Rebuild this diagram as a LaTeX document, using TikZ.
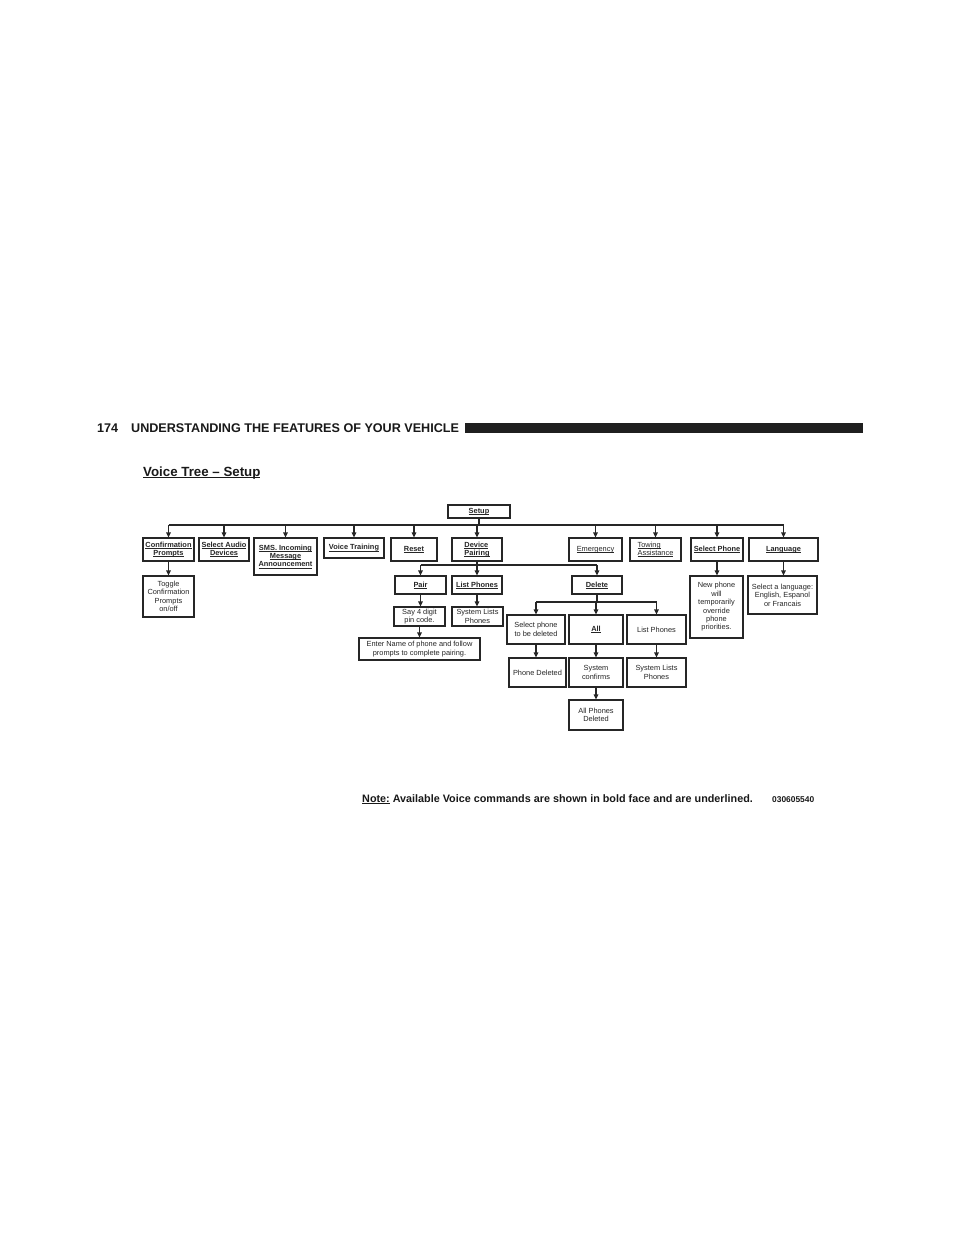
\documentclass[tikz,border=0pt]{standalone}
\usepackage{fontspec}
\setmainfont{Liberation Sans}
\usetikzlibrary{arrows.meta}
\newsavebox\ulbox
\newcommand\myul[1]{\sbox\ulbox{#1}\rlap{\rule[-1.3pt]{\wd\ulbox}{0.55pt}}\usebox\ulbox}
\newcommand\myulb[1]{\sbox\ulbox{#1}\rlap{\rule[-2.2pt]{\wd\ulbox}{0.9pt}}\usebox\ulbox}
\newcommand\cmd[1]{\textbf{\myul{#1}}}
\begin{document}
\begin{tikzpicture}[x=1pt,y=-1pt,
  box/.style={draw=black!85, line width=1.2pt, inner sep=0pt, align=center,
    text=black!85, font=\fontsize{7.4}{8.4}\selectfont},
  ln/.style={draw=black!85, line width=1.2pt},
  arr/.style={ln, -{Triangle[length=5pt,width=4.5pt]}},
  hdr/.style={inner sep=0pt, text=black!90}]
\fill[white] (0,0) rectangle (960,1242);
\useasboundingbox (0,0) rectangle (960,1242);

% header
\node[hdr, anchor=base west, font=\fontsize{12.6}{14}\selectfont\bfseries] (pg) at (97,432) {174};
\node[hdr, anchor=base west, font=\fontsize{12.6}{14}\selectfont\bfseries] (ht) at (131,432) {UNDERSTANDING THE FEATURES OF YOUR VEHICLE};
\fill[black!88] (465,423) rectangle (863,433);
\node[hdr, anchor=base west, font=\fontsize{13.3}{15}\selectfont\bfseries] (title) at (143,476) {\myulb{Voice Tree – Setup}};

% boxes
\node[box, minimum width=62pt, minimum height=13pt] (setup) at (479,511.5) {\cmd{Setup}};
\node[box, minimum width=51pt, minimum height=23pt] (conf) at (168.5,549.5) {\cmd{Confirmation}\\\cmd{Prompts}};
\node[box, minimum width=50pt, minimum height=23pt] (audio) at (224,549.5) {\cmd{Select Audio}\\\cmd{Devices}};
\node[box, minimum width=63pt, minimum height=37pt] (sms) at (285.5,556.5) {\cmd{SMS. Incoming}\\\cmd{Message}\\\cmd{Announcement}};
\node[box, minimum width=60pt, minimum height=20pt] (voice) at (354,548) {\cmd{Voice Training}};
\node[box, minimum width=46pt, minimum height=23pt] (reset) at (414,549.5) {\cmd{Reset}};
\node[box, minimum width=50pt, minimum height=23pt, align=left] (dev) at (477,549.5) {\cmd{Device}\\\cmd{Pairing}};
\node[box, minimum width=53pt, minimum height=23pt] (emerg) at (595.5,549.5) {\myul{Emergency}};
\node[box, minimum width=51pt, minimum height=23pt, align=left] (tow) at (655.5,549.5) {\myul{Towing}\\\myul{Assistance}};
\node[box, minimum width=52pt, minimum height=23pt] (selph) at (717,549.5) {\cmd{Select Phone}};
\node[box, minimum width=69pt, minimum height=23pt] (lang) at (783.5,549.5) {\cmd{Language}};

\node[box, minimum width=51pt, minimum height=41pt] (toggle) at (168.5,596.5) {Toggle\\Confirmation\\Prompts\\on/off};
\node[box, minimum width=51pt, minimum height=18pt] (pair) at (420.5,585) {\cmd{Pair}};
\node[box, minimum width=50pt, minimum height=18pt] (listph) at (477,585) {\cmd{List Phones}};
\node[box, minimum width=50pt, minimum height=18pt] (delete) at (597,585) {\cmd{Delete}};
\node[box, minimum width=53pt, minimum height=62pt] (newph) at (716.5,607) {New phone\\will\\temporarily\\override\\phone\\priorities.};
\node[box, minimum width=69pt, minimum height=38pt] (sellang) at (782.5,595) {Select a language:\\English, Espanol\\or Francais};
\node[box, minimum width=51pt, minimum height=19pt] (say4) at (419.5,616.5) {Say 4 digit\\pin code.};
\node[box, minimum width=51pt, minimum height=19pt] (syslist1) at (477.5,616.5) {System Lists\\Phones};
\node[box, minimum width=121pt, minimum height=22pt] (enter) at (419.5,649) {Enter Name of phone and follow\\prompts to complete pairing.};
\node[box, minimum width=58pt, minimum height=29pt] (selphdel) at (536,629.5) {Select phone\\to be deleted};
\node[box, minimum width=54pt, minimum height=29pt] (all) at (596,629.5) {\cmd{All}};
\node[box, minimum width=59pt, minimum height=29pt] (listph2) at (656.5,629.5) {List Phones};
\node[box, minimum width=57pt, minimum height=29pt] (phdel) at (537.5,672.5) {Phone Deleted};
\node[box, minimum width=54pt, minimum height=29pt] (syscon) at (596,672.5) {System\\confirms};
\node[box, minimum width=59pt, minimum height=29pt] (syslist2) at (656.5,672.5) {System Lists\\Phones};
\node[box, minimum width=54pt, minimum height=30pt] (allph) at (596,715) {All Phones\\Deleted};

% top bus
\coordinate (b1) at (479,525);
\draw[ln] (setup.south) -- (setup.south |- b1);
\draw[ln] (conf.north |- b1) -- (lang.north |- b1);
\foreach \n in {conf,audio,sms,voice,reset,dev,emerg,tow,selph,lang}
  \draw[arr] (\n.north |- b1) -- (\n.north);

% device pairing bus
\coordinate (b2) at (477,565);
\draw[ln] (dev.south) -- (dev.south |- b2);
\draw[ln] (pair.north |- b2) -- (delete.north |- b2);
\foreach \n in {pair,listph,delete}
  \draw[arr] (\n.north |- b2) -- (\n.north);

% delete bus
\coordinate (b3) at (597,602);
\draw[ln] (delete.south) -- (delete.south |- b3);
\draw[ln] (selphdel.north |- b3) -- (listph2.north |- b3);
\foreach \n in {selphdel,all,listph2}
  \draw[arr] (\n.north |- b3) -- (\n.north);

% single links
\draw[arr] (conf.south) -- (conf.south |- toggle.north);
\draw[arr] (selph.south) -- (selph.south |- newph.north);
\draw[arr] (lang.south) -- (lang.south |- sellang.north);
\draw[arr] (pair.south) -- (pair.south |- say4.north);
\draw[arr] (say4.south) -- (say4.south |- enter.north);
\draw[arr] (listph.south) -- (listph.south |- syslist1.north);
\draw[arr] (selphdel.south) -- (selphdel.south |- phdel.north);
\draw[arr] (all.south) -- (all.south |- syscon.north);
\draw[arr] (listph2.south) -- (listph2.south |- syslist2.north);
\draw[arr] (syscon.south) -- (syscon.south |- allph.north);

% note
\node[hdr, anchor=base west, font=\fontsize{10.8}{13}\selectfont\bfseries] (note) at (362,802) {\myul{Note:} Available Voice commands are shown in bold face and are underlined.};
\node[hdr, anchor=base west, font=\fontsize{8.4}{10}\selectfont\bfseries] (code) at (772,802) {030605540};
\end{tikzpicture}
\end{document}
